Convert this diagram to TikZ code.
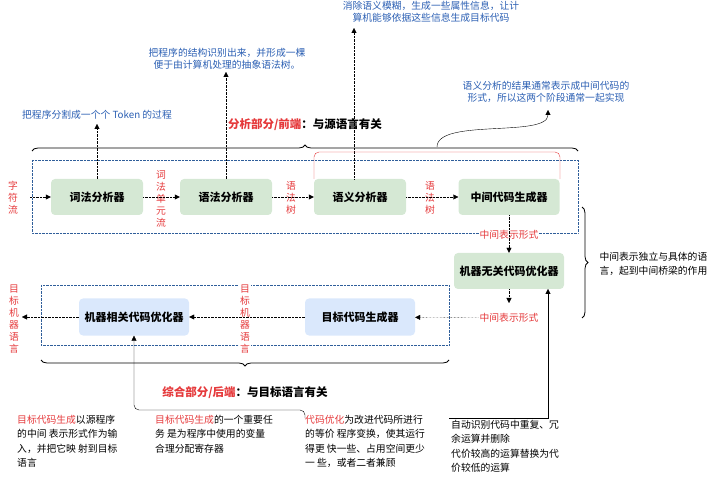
\documentclass[tikz,border=0pt]{standalone}
\usepackage{fontspec}
\setmainfont{Noto Sans CJK SC}
\usetikzlibrary{arrows.meta,decorations.pathreplacing}
\definecolor{rd}{HTML}{E5393B}
\definecolor{bl}{HTML}{2B5FB3}
\definecolor{gf}{HTML}{D5E8D4}
\definecolor{bf}{HTML}{DAE8FC}
\definecolor{bd}{HTML}{2F5E9A}
\tikzset{
 gbox/.style={fill=gf,rounded corners=4pt,minimum height=36pt,font=\fontsize{11}{12}\selectfont\bfseries,inner sep=2pt},
 bbox/.style={fill=bf,rounded corners=4pt,minimum height=37pt,font=\fontsize{11}{12}\selectfont\bfseries,inner sep=2pt},
 dar/.style={densely dotted,-{Triangle[length=5pt,width=5pt]}},
 sar/.style={-{Triangle[length=5pt,width=5pt]}},
 note/.style={text=bl,font=\fontsize{9.8}{12}\selectfont,align=center},
 rl/.style={text=rd,font=\fontsize{9.8}{12}\selectfont,align=center},
 bt/.style={font=\fontsize{9.8}{14.5}\selectfont,align=left,anchor=north west,inner sep=0pt},
 brc/.style={decorate,decoration={brace,amplitude=6pt},thick},
}
\begin{document}
\begin{tikzpicture}[x=1pt,y=-1pt]
\useasboundingbox (0,0) rectangle (720,478);
% boxes
\draw[bd,densely dotted] (32,160) rectangle (578,233);
\draw[bd,densely dotted] (41,285) rectangle (449,345);
\node[gbox,minimum width=92pt] (lex) at (97,197) {词法分析器};
\node[gbox,minimum width=92pt] (syn) at (226,197) {语法分析器};
\node[gbox,minimum width=92pt] (sem) at (360,197) {语义分析器};
\node[gbox,minimum width=101pt] (mid) at (509,197) {中间代码生成器};
\node[gbox,minimum width=110pt,minimum height=36pt] (opt) at (509,271) {机器无关代码优化器};
\node[bbox,minimum width=110pt] (tgt) at (360,317) {目标代码生成器};
\node[bbox,minimum width=110pt] (mop) at (134,317) {机器相关代码优化器};
% labels
\node[rl] (cs) at (13,198) {字\\符\\流};
\node[rl] (tk) at (161,199) {词\\法\\单\\元\\流};
\node[rl] (t1) at (291,198) {语\\法\\树};
\node[rl] (t2) at (430,198) {语\\法\\树};
\coordinate (in0) at (30,197);
\draw[dar] (in0) -- (lex);
\draw[dar] (lex) -- (syn);
\draw[dar] (syn) -- (sem);
\draw[dar] (sem) -- (mid);
\node[rl,fill=white,inner sep=1pt] (ir1) at (509,235) {中间表示形式};
\draw[dar] (mid) -- (opt);
\coordinate (o1) at (509,303);
\draw[dar] (opt) -- (o1);
\node[rl,fill=white,inner sep=1pt] (ir2) at (509,318) {中间表示形式};
\draw[dar] (ir2) -- (tgt);
\node[rl,fill=white,inner sep=1pt] (tm1) at (245,319) {目\\标\\机\\器\\语\\言};
\draw[dar] (tgt) -- (mop);
\coordinate (out0) at (22,317);
\node[rl] (tm0) at (14,319) {目\\标\\机\\器\\语\\言};
\draw[dar] (mop.west) -- (out0);
% top notes
\node[note] (n1) at (97,115) {把程序分割成一个个 Token 的过程};
\coordinate (a1) at (97,124);
\draw[dar] (lex) -- (a1);
\node[note] (n2) at (227,59) {把程序的结构识别出来，并形成一棵\\便于由计算机处理的抽象语法树。};
\coordinate (a2) at (226,72);
\draw[dar] (syn) -- (a2);
\node[note] (n3) at (431,12) {消除语义模糊，生成一些属性信息，让计\\算机能够依据这些信息生成目标代码};
\coordinate (a3) at (354,28);
\draw[dar] (354,179) -- (a3);
% red bracket
\draw[rd,rounded corners=5pt] (314,179) -- (314,152) -- (560,152) -- (560,179);
% top brace
\draw[brc] (32,151) -- (578,151);
\node[font=\fontsize{11.5}{13}\selectfont\bfseries] (fe) at (305,125) {\textcolor{rd}{分析部分/前端}：与源语言有关};
\node[note] (n4) at (546,92) {语义分析的结果通常表示成中间代码的\\形式，所以这两个阶段通常一起实现};
\coordinate (c0) at (437,147);
\coordinate (c1) at (548,110);
\draw[sar] (c0) .. controls (437,118) and (548,138) .. (c1);
% right brace
\draw[brc] (582,207) -- (582,318);
\node[font=\fontsize{9.8}{14}\selectfont,align=left,anchor=west] (rn) at (596,264) {中间表示独立与具体的语\\言，起到中间桥梁的作用};
% bottom brace
\draw[brc] (449,360) -- (41,360);
\node[font=\fontsize{11.5}{13}\selectfont\bfseries] (be) at (245,393) {\textcolor{rd}{综合部分/后端}：与目标语言有关};
% bottom texts
\node[bt] (b1) at (17,415) {\textcolor{rd}{目标代码生成}以源程序\\的中间 表示形式作为输\\入，并把它映 射到目标\\语言};
\node[bt] (b2) at (155,415) {\textcolor{rd}{目标代码生成}的一个重要任\\务 是为程序中使用的变量\\合理分配寄存器};
\node[bt] (b3) at (305,415) {\textcolor{rd}{代码优化}为改进代码所进行\\的等价 程序变换，使其运行\\得更 快一些、占用空间更少\\一 些，或者二者兼顾};
\node[bt] (b4) at (451,420) {自动识别代码中重复、冗\\余运算并删除\\代价较高的运算替换为代\\价较低的运算};
\coordinate (l0) at (305,418);
\draw[sar,rounded corners=5pt] (l0) -- (305,410) -- (134,410) -- (mop.south);
\coordinate (r0) at (449,418);
\draw[sar] (r0) -- (548,418) -- (548,289);
\end{tikzpicture}
\end{document}
